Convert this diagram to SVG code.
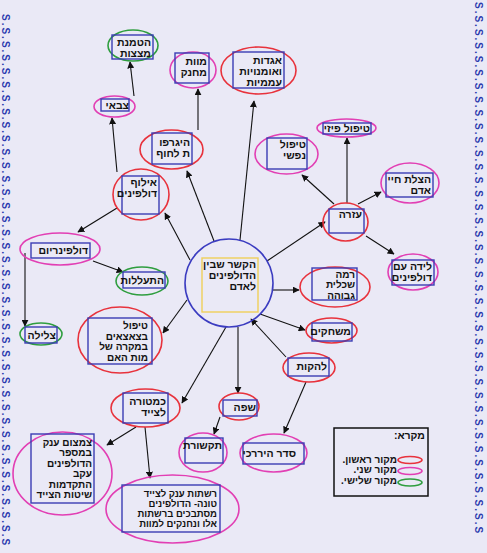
<svg xmlns="http://www.w3.org/2000/svg" width="487" height="553" viewBox="0 0 487 553">
<style>
text{font-family:"Liberation Sans","DejaVu Sans",sans-serif;font-size:10.5px;font-weight:bold;fill:#111;text-anchor:end}
text.sm{font-size:9.5px}
text.md{font-size:10px}
.r{fill:none;stroke:#e8323c;stroke-width:1.6}
.p{fill:none;stroke:#e23fb4;stroke-width:1.6}
.g{fill:none;stroke:#2f9e3f;stroke-width:1.6}
.b{fill:none;stroke:#3b3cb4;stroke-width:1.4}
.c line{stroke:#111;stroke-width:1.1;marker-end:url(#ah)}
text.ss{fill:#2b3aae;font-size:10px;text-anchor:start;letter-spacing:2px}
</style>
<defs>
<marker id="ah" viewBox="0 0 10 10" refX="9" refY="5" markerWidth="7" markerHeight="7" markerUnits="userSpaceOnUse" orient="auto">
<path d="M0,0 L10,5 L0,10 z" fill="#111"/>
</marker>
</defs>
<rect width="487" height="553" fill="#eae9f6"/>
<g id="border">
<text class="ss" transform="translate(2,14) rotate(90)">S.S.S.S.S.S.S.S.S.S.S.S.S.S.S.S.S.S.S.S.S.S.S.S.S.S.S.S.S.S.S.S.S.S.S.S.S.S.S.S</text>
<text class="ss" transform="translate(475,2) rotate(90)">S.S.S.S.S.S.S.S.S.S.S.S.S.S.S.S.S.S.S.S.S.S.S.S.S.S.S.S.S.S.S.S.S.S.S.S.S.S.S.S</text>
</g>
<g class="c" id="connectors">
<line x1="240" y1="240" x2="254" y2="101"/>
<line x1="214" y1="241" x2="187" y2="171"/>
<line x1="190" y1="260" x2="165" y2="213"/>
<line x1="187" y1="300" x2="163" y2="333"/>
<line x1="226" y1="327" x2="182" y2="403"/>
<line x1="238" y1="327" x2="238" y2="393"/>
<line x1="286" y1="357" x2="251" y2="319"/>
<line x1="260" y1="314" x2="305" y2="330"/>
<line x1="273" y1="290" x2="299" y2="290"/>
<line x1="267" y1="261" x2="325" y2="222"/>
<line x1="334" y1="204" x2="302" y2="175"/>
<line x1="347" y1="203" x2="347" y2="138"/>
<line x1="358" y1="204" x2="381" y2="192"/>
<line x1="366" y1="236" x2="394" y2="254"/>
<line x1="117" y1="172" x2="112" y2="118"/>
<line x1="134" y1="96" x2="130" y2="62"/>
<line x1="198" y1="130" x2="198" y2="89"/>
<line x1="117" y1="208" x2="78" y2="232"/>
<line x1="93" y1="261" x2="123" y2="272"/>
<line x1="25" y1="253" x2="25" y2="326"/>
<line x1="136" y1="427" x2="107" y2="445"/>
<line x1="145" y1="427" x2="150" y2="478"/>
<line x1="220" y1="417" x2="214" y2="434"/>
<line x1="306" y1="382" x2="284" y2="433"/>
</g>
<g id="center">
<circle cx="229" cy="283" r="44" fill="none" stroke="#3b3cc0" stroke-width="1.6"/>
<rect x="202" y="258" width="56" height="54" fill="none" stroke="#efcf5a" stroke-width="1.4"/>
<text x="256" y="268">הקשר שבין</text>
<text x="256" y="279">הדולפינים</text>
<text x="256" y="290">לאדם</text>
</g>
<g id="n-hatmanat">
<ellipse class="g" cx="133" cy="45.5" rx="25" ry="15.5"/>
<rect class="b" x="112" y="35" width="41" height="24"/>
<text x="151" y="46">הטמנת</text>
<text x="151" y="57">מצצות</text>
</g>
<g id="n-tsvai">
<ellipse class="p" cx="114.5" cy="106.5" rx="20.5" ry="10.5"/>
<rect class="b" x="101" y="99" width="28" height="12"/>
<text x="129" y="109">צבאי</text>
</g>
<g id="n-mavet">
<ellipse class="p" cx="193" cy="70" rx="23" ry="18"/>
<rect class="b" x="175" y="53" width="34" height="30"/>
<text x="207" y="65">מוות</text>
<text x="207" y="76">מחנק</text>
</g>
<g id="n-agadot">
<ellipse class="r" cx="258.5" cy="70.5" rx="37.5" ry="23.5"/>
<rect class="b" x="233" y="52" width="51" height="36"/>
<text x="282" y="64">אגדות</text>
<text x="282" y="75">ואומנויות</text>
<text x="282" y="86">עממיות</text>
</g>
<g id="n-higarfut">
<ellipse class="r" cx="171.5" cy="149.5" rx="31.5" ry="19.5"/>
<rect class="b" x="152" y="133" width="40" height="31"/>
<text x="190" y="146">היגרפו</text>
<text x="190" y="157">ת לחוף</text>
</g>
<g id="n-ilouf">
<ellipse class="r" cx="141" cy="194.5" rx="28" ry="25.5"/>
<rect class="b" x="122" y="176" width="37" height="38"/>
<text x="157" y="186">אילוף</text>
<text x="157" y="197">דולפינים</text>
</g>
<g id="n-dolfinarium">
<ellipse class="p" cx="60" cy="249" rx="40" ry="16"/>
<rect class="b" x="31" y="243" width="59" height="15"/>
<text x="88" y="254">דולפינריום</text>
</g>
<g id="n-hitalelut">
<ellipse class="g" cx="142" cy="281" rx="26" ry="14"/>
<rect class="b" x="123" y="272" width="42" height="16"/>
<text x="164" y="284">התעללות</text>
</g>
<g id="n-tslila">
<ellipse class="g" cx="41" cy="334" rx="21" ry="11"/>
<rect class="b" x="25" y="327" width="32" height="16"/>
<text x="56" y="339">צלילה</text>
</g>
<g id="n-tipul-tsetsaim">
<ellipse class="r" cx="120" cy="340" rx="42" ry="33"/>
<rect class="b" x="88" y="318" width="64" height="46"/>
<text class="md" x="148" y="329">טיפול</text>
<text class="md" x="148" y="339.5">בצאצאים</text>
<text class="md" x="148" y="350">במקרה של</text>
<text class="md" x="148" y="360.5">מות האם</text>
</g>
<g id="n-tipul-fizi">
<ellipse class="p" cx="346.5" cy="128" rx="29.5" ry="9"/>
<rect class="b" x="323" y="123" width="48" height="11"/>
<text x="370" y="132">טיפול פיזי</text>
</g>
<g id="n-tipul-nafshi">
<ellipse class="p" cx="286.5" cy="154" rx="31.5" ry="20"/>
<rect class="b" x="267" y="138" width="40" height="31"/>
<text x="306" y="148">טיפול</text>
<text x="306" y="159">נפשי</text>
</g>
<g id="n-hatsalat">
<ellipse class="p" cx="410" cy="183" rx="29" ry="20"/>
<rect class="b" x="386" y="173" width="47" height="24"/>
<text x="431" y="183">הצלת חיי</text>
<text x="431" y="194">אדם</text>
</g>
<g id="n-ezra">
<ellipse class="r" cx="345.5" cy="222" rx="22.5" ry="19"/>
<rect class="b" x="329" y="209" width="35" height="24"/>
<text x="362" y="218">עזרה</text>
</g>
<g id="n-leida">
<ellipse class="p" cx="413" cy="272" rx="25" ry="18"/>
<rect class="b" x="392" y="260" width="42" height="25"/>
<text x="432" y="270">לידה עם</text>
<text x="432" y="281">דולפינים</text>
</g>
<g id="n-rama">
<ellipse class="r" cx="335" cy="287" rx="35" ry="20"/>
<rect class="b" x="312" y="268" width="45" height="32"/>
<text class="md" x="355" y="277.5">רמה</text>
<text class="md" x="355" y="288">שכלית</text>
<text class="md" x="355" y="298.5">גבוהה</text>
</g>
<g id="n-mischakim">
<ellipse class="r" cx="331.5" cy="330.5" rx="25.5" ry="12.5"/>
<rect class="b" x="312" y="323" width="40" height="18"/>
<text x="351" y="335">משחקים</text>
</g>
<g id="n-lehakot">
<ellipse class="r" cx="309" cy="367.5" rx="26" ry="14.5"/>
<rect class="b" x="288" y="358" width="41" height="18"/>
<text x="327" y="370">להקות</text>
</g>
<g id="n-kamatara">
<ellipse class="r" cx="145.5" cy="408" rx="34.5" ry="19"/>
<rect class="b" x="123" y="393" width="45" height="30"/>
<text x="166" y="405">כמטורה</text>
<text x="166" y="416">לצייד</text>
</g>
<g id="n-safa">
<ellipse class="r" cx="239" cy="406.5" rx="20" ry="13.5"/>
<rect class="b" x="223" y="400" width="34" height="16"/>
<text x="256" y="411">שפה</text>
</g>
<g id="n-tikshoret">
<ellipse class="p" cx="203" cy="452.5" rx="24" ry="19.5"/>
<rect class="b" x="185" y="438" width="38" height="25"/>
<text x="222" y="449">תקשורת</text>
</g>
<g id="n-seder">
<ellipse class="p" cx="273.5" cy="453" rx="33.5" ry="19"/>
<rect class="b" x="243" y="443" width="61" height="21"/>
<text x="296" y="457">סדר היררכי</text>
</g>
<g id="n-tsimtsum">
<ellipse class="p" cx="62.5" cy="473.5" rx="49.5" ry="41.5"/>
<rect class="b" x="31" y="434" width="63" height="69"/>
<text class="md" x="92" y="445.5">צמצום ענק</text>
<text class="md" x="92" y="456">במספר</text>
<text class="md" x="92" y="466.5">הדולפינים</text>
<text class="md" x="92" y="477">עקב</text>
<text class="md" x="92" y="487.5">התקדמות</text>
<text class="md" x="92" y="498">שיטות הצייד</text>
</g>
<g id="n-reshatot">
<ellipse class="p" cx="172.5" cy="509" rx="66.5" ry="34"/>
<rect class="b" x="122" y="485" width="98" height="47"/>
<text class="sm" x="217" y="497">רשתות ענק לצייד</text>
<text class="sm" x="217" y="507">טונה- הדולפינים</text>
<text class="sm" x="217" y="517">מסתבכים ברשתות</text>
<text class="sm" x="217" y="527">אלו ונחנקים למוות</text>
</g>
<g id="legend">
<rect x="334" y="428" width="94" height="68" fill="none" stroke="#111" stroke-width="1.5"/>
<text x="425" y="439">מקרא:&#x200F;</text>
<text class="md" x="397" y="462.5">מקור ראשון.&#x200F;</text>
<text class="md" x="397" y="473">מקור שני.&#x200F;</text>
<text class="md" x="397" y="483.5">מקור שלישי.&#x200F;</text>
<ellipse class="r" cx="410" cy="460" rx="12" ry="3.5"/>
<ellipse class="p" cx="410" cy="471" rx="12" ry="3.5"/>
<ellipse class="g" cx="410" cy="482.5" rx="12" ry="3.5"/>
</g>
</svg>
